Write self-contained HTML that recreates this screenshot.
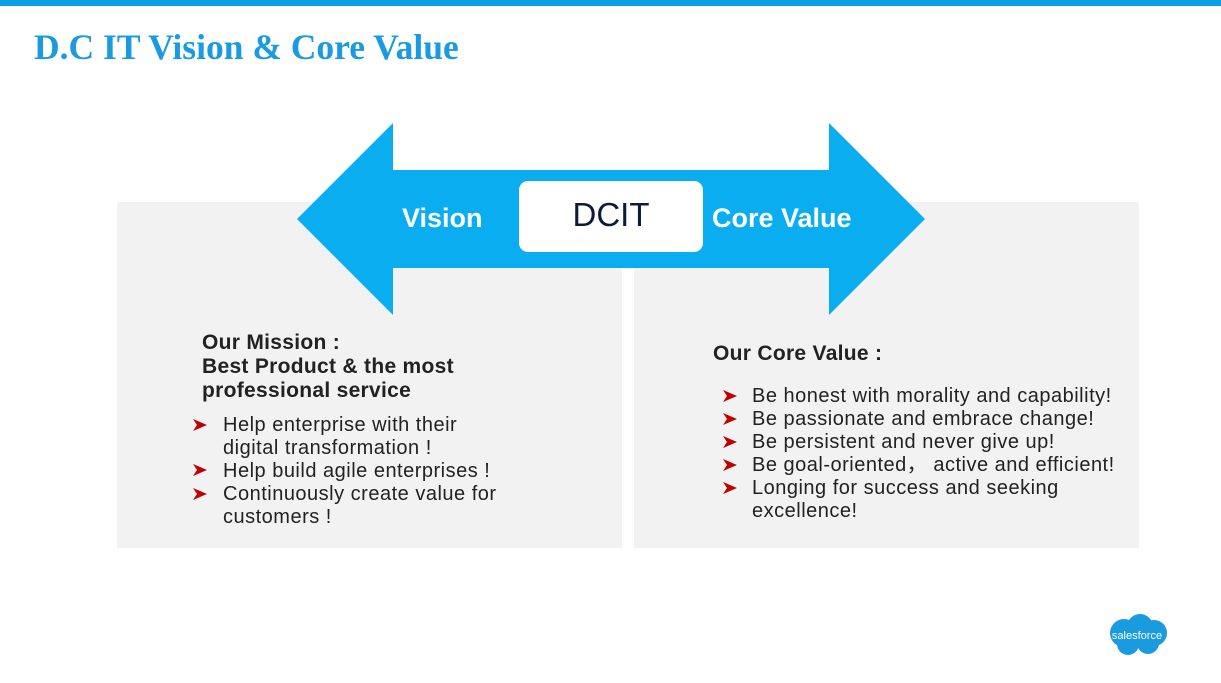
<!DOCTYPE html>
<html><head><meta charset="utf-8"><style>
body{margin:0;width:1221px;height:683px;position:relative;background:#fff;overflow:hidden;font-family:"Liberation Sans","DejaVu Sans",sans-serif;}
.a{position:absolute;white-space:nowrap;}
.t{font-size:20px;letter-spacing:0.5px;color:#222;line-height:23px;}
.b{font-size:21px;letter-spacing:0.3px;font-weight:bold;color:#222;line-height:24px;}
</style></head><body>
<div class="a" style="left:0;top:0;width:1221px;height:6px;background:#0aa0e6"></div>
<div class="a" style="left:34px;top:26px;font-family:'Liberation Serif',serif;font-weight:bold;font-size:35.5px;color:#1a9be0">D.C IT Vision &amp; Core Value</div>
<div class="a" style="left:117px;top:202px;width:505px;height:346px;background:#f2f2f2"></div>
<div class="a" style="left:634px;top:202px;width:505px;height:346px;background:#f2f2f2"></div>
<svg class="a" style="left:0;top:0" width="1221" height="683">
<polygon points="297,219 393,123 393,170 829,170 829,123 925,219 829,315 829,268 393,268 393,315" fill="#0aaef0"/>
<rect x="519" y="181" width="184" height="71" rx="9" fill="#fff"/>
<g fill="#c00000">
<path d="M193,419 L207,425 L193,431 L197,425Z"/>
<path d="M193,464 L207,470 L193,476 L197,470Z"/>
<path d="M193,488 L207,494 L193,500 L197,494Z"/>
<path d="M723,390 L737,396 L723,402 L727,396Z"/>
<path d="M723,413 L737,419 L723,425 L727,419Z"/>
<path d="M723,436 L737,442 L723,448 L727,442Z"/>
<path d="M723,459 L737,465 L723,471 L727,465Z"/>
<path d="M723,482 L737,488 L723,494 L727,488Z"/>
</g>
<g fill="#1a9be0">
<circle cx="1124" cy="633" r="14"/><circle cx="1140" cy="627" r="13"/><circle cx="1154" cy="633" r="13"/><circle cx="1128" cy="644" r="11"/><circle cx="1148" cy="643" r="11"/><rect x="1112" y="628" width="52" height="18" rx="9"/>
</g>
<text x="1137" y="639" font-size="11" fill="#fff" text-anchor="middle" font-family="Liberation Sans,sans-serif">salesforce</text>
</svg>
<div class="a" style="left:402px;top:203px;font-size:27px;font-weight:bold;color:#fff">Vision</div>
<div class="a" style="left:712px;top:203px;font-size:27px;font-weight:bold;color:#fff">Core Value</div>
<div class="a" style="left:519px;top:196px;width:184px;text-align:center;font-size:33px;color:#0d1b3a">DCIT</div>
<div class="a b" style="left:202px;top:331px">Our Mission :<br>Best Product &amp; the most<br>professional service</div>
<div class="a t" style="left:223px;top:414px">Help enterprise with their<br>digital transformation !<br>Help build agile enterprises !<br>Continuously create value for<br>customers !</div>
<div class="a b" style="left:713px;top:342px">Our Core Value :</div>
<div class="a t" style="left:752px;top:385px">Be honest with morality and capability!<br>Be passionate and embrace change!<br>Be persistent and never give up!<br>Be goal-oriented， active and efficient!<br>Longing for success and seeking<br>excellence!</div>
</body></html>
